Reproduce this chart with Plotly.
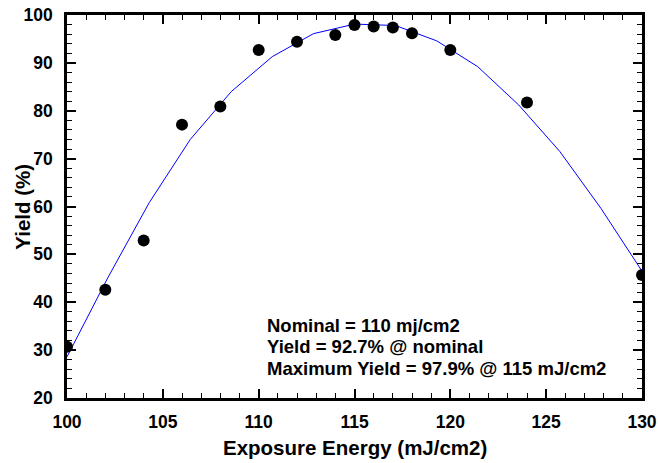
import plotly.graph_objects as go

# Measured data points
energy = [100, 102, 104, 106, 108, 110, 112, 114, 115, 116, 117, 118, 120, 124, 130]
yield_pct = [30.7, 42.6, 52.9, 77.1, 80.9, 92.7, 94.4, 95.8, 97.9, 97.6, 97.4, 96.2, 92.7, 81.7, 45.7]

# Fitted curve vertices
fit_energy = [100, 102.14, 104.29, 106.43, 108.57, 110.71, 112.86, 115,
              117.14, 119.29, 121.43, 123.57, 125.71, 127.86, 130]
fit_yield = [28.6, 45.2, 60.8, 74.0, 84.0, 91.3, 96.1, 98.1,
             97.8, 94.6, 89.2, 81.2, 71.5, 59.6, 46.5]

x_ticks = [100, 105, 110, 115, 120, 125, 130]
y_ticks = [20, 30, 40, 50, 60, 70, 80, 90, 100]

note_lines = ["Nominal = 110 mj/cm2",
              "Yield = 92.7% @ nominal",
              "Maximum Yield = 97.9% @ 115 mJ/cm2"]

FONT = "Liberation Sans, Arial, sans-serif"

fig = go.Figure()
fig.add_trace(go.Scatter(x=fit_energy, y=fit_yield, mode="lines",
                         line=dict(color="#0000FF", width=1), showlegend=False))
fig.add_trace(go.Scatter(x=energy, y=yield_pct, mode="markers",
                         marker=dict(color="black", size=12), showlegend=False))

axis_common = dict(
    showgrid=False, zeroline=False, automargin=False,
    showline=True, linecolor="black", linewidth=2.5,
    mirror="allticks", ticks="inside", ticklen=9, tickwidth=1.5, tickcolor="black",
    tickfont=dict(family=FONT, size=17.5, color="black"),
)

fig.update_xaxes(range=[100, 130], tickvals=x_ticks,
                 ticktext=["<b>%d</b>" % v for v in x_ticks],
                 minor=dict(dtick=1, ticks="inside", ticklen=5, tickwidth=1, tickcolor="black"),
                 ticklabelstandoff=6,
                 **axis_common)
fig.update_yaxes(range=[20, 100], tickvals=y_ticks,
                 ticktext=["<b>%d</b>" % v for v in y_ticks],
                 minor=dict(dtick=2, ticks="inside", ticklen=5, tickwidth=1, tickcolor="black"),
                 ticklabelstandoff=8,
                 **axis_common)

# Axis titles
fig.add_annotation(x=0.5, y=-0.13, xref="paper", yref="paper",
                   xanchor="center", yanchor="middle", showarrow=False,
                   text="<b>Exposure Energy (mJ/cm2)</b>",
                   font=dict(family=FONT, size=20.5, color="black"))
fig.add_annotation(x=-0.078, y=0.5, xref="paper", yref="paper",
                   xanchor="center", yanchor="middle", showarrow=False, textangle=-90,
                   text="<b>Yield (%)</b>",
                   font=dict(family=FONT, size=20.5, color="black"))

# Note lines
note_y = [0.190, 0.1346, 0.0783]
for line, yy in zip(note_lines, note_y):
    fig.add_annotation(x=0.344, y=yy, xref="paper", yref="paper",
                       xanchor="left", yanchor="middle", align="left", showarrow=False,
                       text="<b>" + line + "</b>",
                       font=dict(family=FONT, size=18.5, color="black"))

fig.update_layout(width=658, height=463,
                  margin=dict(l=67, r=16, t=15, b=65),
                  plot_bgcolor="white", paper_bgcolor="white")

fig.write_html("out.html")
